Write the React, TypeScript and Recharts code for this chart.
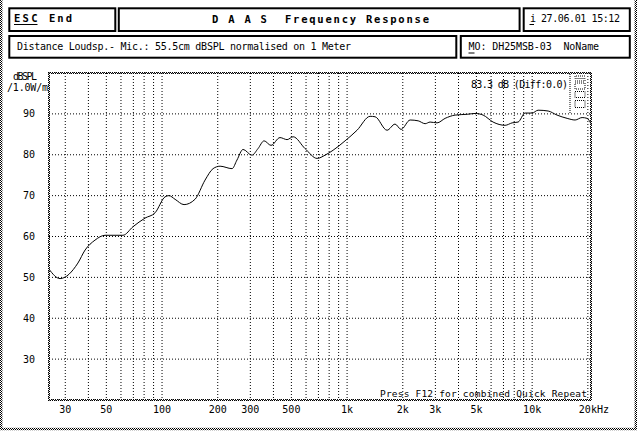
import { LineChart, Line, XAxis, YAxis, CartesianGrid } from "recharts"

const MONO = "'DejaVu Sans Mono', 'Liberation Mono', monospace"

const freqs = [
    24.5, 28.1, 35.1, 38.4, 43.4, 49.2, 61.5, 69.7, 80.9, 91.7,
    103.8, 109, 117.6, 131.5, 150.7, 170.8, 188.7, 205.9, 239, 254,
    274, 306, 330, 356, 388, 434, 474, 511, 593, 689,
    760, 840, 975, 1132, 1331, 1416, 1644, 1816, 1958, 2191,
    2421, 2641, 2810, 3064, 3386, 3835, 4456, 4920, 5434, 6151,
    7142, 7796, 8397, 9163, 10000, 10772, 12200, 13640, 15460, 17070,
    18620, 19810, 20800,
]
const spl = [
    52.0, 49.7, 53.5, 56.7, 59.1, 60.3, 60.3, 62.4, 64.5, 65.8,
    69.7, 70.0, 69.1, 67.8, 69.1, 73.8, 76.6, 77.2, 76.6, 78.7,
    81.3, 79.9, 81.5, 83.4, 82.3, 84.2, 83.7, 84.4, 81.5, 79.1,
    79.9, 81.1, 83.4, 86.0, 89.4, 89.3, 86.0, 87.5, 86.2, 88.5,
    88.3, 87.6, 88.0, 87.8, 88.9, 89.7, 89.9, 90.1, 89.7, 88.0,
    87.2, 87.8, 88.0, 90.2, 90.2, 90.9, 90.7, 89.7, 88.9, 88.5,
    89.1, 88.9, 87.6,
]

const gridFreqs = [
    30, 40, 50, 60, 70, 80, 90, 100, 200, 300, 400, 500, 600, 700, 800, 900,
    1000, 2000, 3000, 4000, 5000, 6000, 7000, 8000, 9000, 10000, 20000,
]
const freqLabels: Record<number, string> = {
    30: "30", 50: "50", 100: "100", 200: "200", 300: "300", 500: "500",
    1000: "1k", 2000: "2k", 3000: "3k", 5000: "5k", 10000: "10k", 20000: "20kHz",
}
const splTicks = [30, 40, 50, 60, 70, 80, 90]

const data = freqs.map((f, i) => ({ f, spl: spl[i] }))

const renderXTick = (props: any) => {
    const { x, payload } = props
    const label = freqLabels[payload.value]
    if (!label) return <g />
    const last = label.endsWith("Hz")
    return (
        <text x={last ? x - 9 : x} y={412.5} textAnchor={last ? "start" : "middle"}
            fontSize={10} fontFamily={MONO} fill="#000">{label}</text>
    )
}

const renderYTick = (props: any) => {
    const { y, payload } = props
    return (
        <text x={29} y={y + 3.5} textAnchor="middle" fontSize={10} fontFamily={MONO} fill="#000">
            {payload.value}
        </text>
    )
}

const txt = { fontFamily: MONO, fill: "#000", style: { whiteSpace: "pre" as const } }

export default function App() {
    return (
        <div style={{ position: "absolute", left: 0, top: 0, width: 640, height: 431, background: "#fff" }}>
            <LineChart width={640} height={431} data={data} margin={{ top: 73, right: 49, bottom: 0, left: 0 }}>
                <CartesianGrid stroke="#000" strokeDasharray="1 2" />
                <XAxis dataKey="f" type="number" scale="log" domain={[24.5, 20800]} allowDataOverflow
                    ticks={gridFreqs} interval={0} height={31} axisLine={false} tickLine={false} tick={renderXTick} />
                <YAxis type="number" domain={[20, 100]} allowDataOverflow ticks={splTicks} interval={0}
                    width={49} axisLine={false} tickLine={false} tick={renderYTick} />
                <Line type="monotone" dataKey="spl" stroke="#000" strokeWidth={1} dot={false} isAnimationActive={false} />
            </LineChart>
            <svg width={640} height={431} style={{ position: "absolute", left: 0, top: 0, pointerEvents: "none" }}>
                <defs>
                    <pattern id="chk" width="2" height="2" patternUnits="userSpaceOnUse">
                        <rect x="0" y="0" width="1" height="1" fill="#000" />
                        <rect x="1" y="1" width="1" height="1" fill="#000" />
                    </pattern>
                </defs>
                {/* outer and plot frames */}
                <rect x={1.2} y={-3} width={634.6} height={432} fill="none" stroke="url(#chk)" strokeWidth={2.4} />
                <rect x={49} y={73} width={542} height={327} fill="none" stroke="url(#chk)" strokeWidth={2} />

                {/* header boxes */}
                <g fill="none" stroke="#000" strokeWidth={2}>
                    <rect x={9.3} y={8.3} width={106} height={22.7} />
                    <rect x={118.8} y={8.3} width={400.8} height={22.7} />
                    <rect x={523.7} y={8.3} width={106.1} height={22.7} />
                    <rect x={9.3} y={36} width={447} height={21.7} />
                    <rect x={460.8} y={36} width={169} height={21.7} />
                </g>
                <text x={14} y={22} fontSize={10.5} fontWeight="bold" textLength={23.5} {...txt}>ESC</text>
                <line x1={14} x2={37.5} y1={24.5} y2={24.5} stroke="#000" />
                <text x={49} y={22} fontSize={10.5} fontWeight="bold" textLength={23} {...txt}>End</text>
                <text x={212} y={23} fontSize={10.5} fontWeight="bold" textLength={217} {...txt}>D A A S  Frequency Response</text>
                <text x={530} y={22} fontSize={10} {...txt}>i</text>
                <line x1={529.5} x2={534} y1={24.5} y2={24.5} stroke="#000" />
                <text x={541} y={22} fontSize={10} textLength={79} {...txt}>27.06.01 15:12</text>
                <text x={17} y={50} fontSize={10} textLength={334} {...txt}>Distance Loudsp.- Mic.: 55.5cm dBSPL normalised on 1 Meter</text>
                <text x={468.6} y={50} fontSize={10} textLength={130.5} {...txt}>MO: DH25MSB-03  NoName</text>
                <line x1={468.5} x2={474.5} y1={53} y2={53} stroke="#000" />

                {/* axis title */}
                <text x={13} y={80} fontSize={10} textLength={24} {...txt}>dBSPL</text>
                <text x={7} y={91} fontSize={10} textLength={41} {...txt}>/1.0W/m</text>

                {/* in-plot annotations */}
                <text x={471} y={88} fontSize={10} textLength={97} {...txt}>83.3 dB (Diff:0.0)</text>
                <g fill="none" stroke="#000" strokeWidth={1} strokeDasharray="1 1">
                    <line x1={570} x2={570} y1={74} y2={113} />
                    <path d="M585 76 H575 V78.5 H585 V81 H575" />
                    <rect x={575} y={83} width={10} height={6} />
                    <rect x={575} y={91.5} width={10} height={6} />
                    <rect x={575} y={100.5} width={10} height={7} />
                </g>
                <text x={380} y={397} fontSize={9.5} textLength={207} {...txt}>Press F12 for combined Quick Repeat</text>
            </svg>
        </div>
    )
}
